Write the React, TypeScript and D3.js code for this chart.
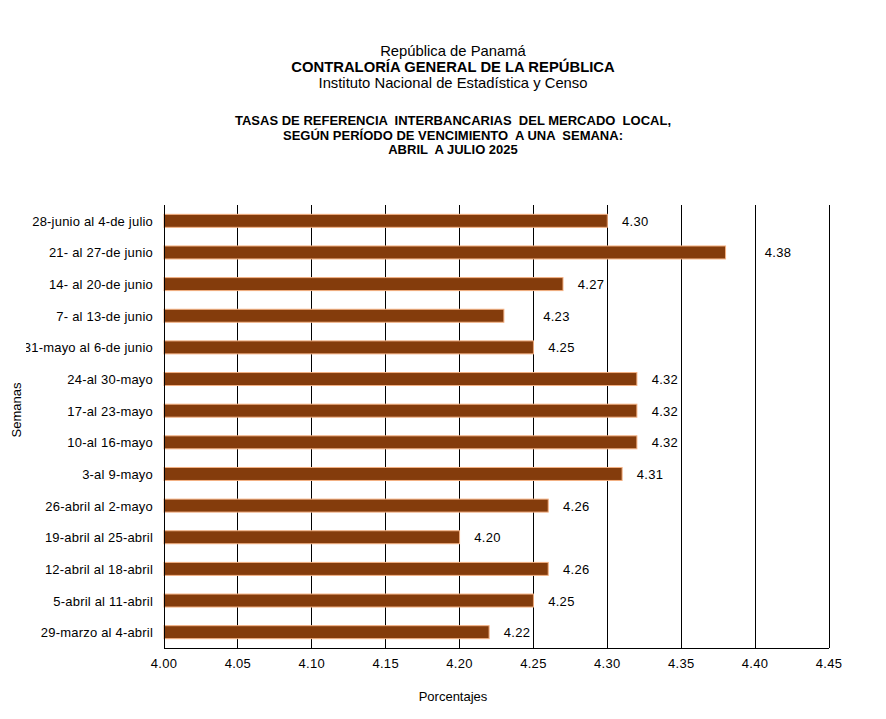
import React, { useEffect, useRef } from "react";
import * as d3 from "d3";

// Weekly periods, top to bottom as shown
const semanas: string[] = [
  "28-junio al 4-de julio",
  "21- al 27-de junio",
  "14- al 20-de junio",
  "7- al 13-de junio",
  "31-mayo al 6-de junio",
  "24-al 30-mayo",
  "17-al 23-mayo",
  "10-al 16-mayo",
  "3-al 9-mayo",
  "26-abril al 2-mayo",
  "19-abril al 25-abril",
  "12-abril al 18-abril",
  "5-abril al 11-abril",
  "29-marzo al 4-abril",
];

const tasas: number[] = [
  4.3, 4.38, 4.27, 4.23, 4.25, 4.32, 4.32, 4.32, 4.31, 4.26, 4.2, 4.26, 4.25, 4.22,
];

const xTicks: number[] = [4.0, 4.05, 4.1, 4.15, 4.2, 4.25, 4.3, 4.35, 4.4, 4.45];

const headerLines: string[] = [
  "República de Panamá",
  "CONTRALORÍA GENERAL DE LA REPÚBLICA",
  "Instituto Nacional de Estadística y Censo",
];

const titleLines: string[] = [
  "TASAS DE REFERENCIA  INTERBANCARIAS  DEL MERCADO  LOCAL,",
  "SEGÚN PERÍODO DE VENCIMIENTO  A UNA  SEMANA:",
  "ABRIL  A JULIO 2025",
];

const App: React.FC = () => {
  const svgRef = useRef<SVGSVGElement>(null);

  useEffect(() => {
    const svg = d3.select(svgRef.current);
    svg.selectAll("*").remove();

    const font = "Arial, 'Liberation Sans', sans-serif";
    const left = 164;
    const right = 829;
    const top = 205;
    const bottom = 648;

    const xScale = d3.scaleLinear().domain([4.0, 4.45]).range([left, right]);
    const yScale = d3
      .scaleBand<string>()
      .domain(semanas)
      .range([top, bottom])
      .paddingInner(0.59)
      .paddingOuter(0.295);

    // header
    svg
      .selectAll(".header")
      .data(headerLines)
      .enter()
      .append("text")
      .attr("x", 453)
      .attr("y", (_, i) => 56 + i * 16)
      .attr("text-anchor", "middle")
      .style("font-family", font)
      .style("font-size", "14.8px")
      .style("font-weight", (_, i) => (i === 1 ? "bold" : "normal"))
      .text((d) => d);

    svg
      .selectAll(".title")
      .data(titleLines)
      .enter()
      .append("text")
      .attr("x", 453)
      .attr("y", (_, i) => 125 + i * 14.5)
      .attr("text-anchor", "middle")
      .style("font-family", font)
      .style("font-size", "13px")
      .style("font-weight", "bold")
      .style("white-space", "pre")
      .text((d) => d);

    // vertical grid lines
    svg
      .append("g")
      .selectAll("line")
      .data(xTicks.slice(1))
      .enter()
      .append("line")
      .attr("x1", (d) => xScale(d))
      .attr("x2", (d) => xScale(d))
      .attr("y1", top)
      .attr("y2", bottom)
      .attr("stroke", "#000")
      .attr("stroke-width", 1)
      .attr("shape-rendering", "crispEdges");

    // bars
    svg
      .append("g")
      .selectAll("rect")
      .data(semanas)
      .enter()
      .append("rect")
      .attr("x", xScale(4.0))
      .attr("y", (d) => yScale(d) || 0)
      .attr("width", (_, i) => xScale(tasas[i]) - xScale(4.0))
      .attr("height", yScale.bandwidth())
      .attr("fill", "#843C0C")
      .attr("stroke", "#F4B183")
      .attr("stroke-width", 1);

    // value labels, nudged off any grid line they would sit on
    const labelX = (v: number) => {
      let cx = xScale(v) + 28;
      for (const t of xTicks) {
        const gx = xScale(t);
        if (Math.abs(cx - gx) < 13) {
          cx = gx + 23;
          break;
        }
      }
      return cx;
    };

    svg
      .append("g")
      .selectAll("text")
      .data(semanas)
      .enter()
      .append("text")
      .attr("x", (_, i) => labelX(tasas[i]))
      .attr("y", (d) => (yScale(d) || 0) + yScale.bandwidth() / 2 + 5)
      .attr("text-anchor", "middle")
      .style("font-family", font)
      .style("font-size", "13px")
      .style("letter-spacing", "0.3px")
      .text((_, i) => tasas[i].toFixed(2));

    // axes lines
    svg
      .append("line")
      .attr("x1", left)
      .attr("x2", left)
      .attr("y1", top)
      .attr("y2", bottom)
      .attr("stroke", "#000")
      .attr("shape-rendering", "crispEdges");
    svg
      .append("line")
      .attr("x1", left)
      .attr("x2", right)
      .attr("y1", bottom)
      .attr("y2", bottom)
      .attr("stroke", "#000")
      .attr("shape-rendering", "crispEdges");

    // x tick labels
    svg
      .append("g")
      .selectAll("text")
      .data(xTicks)
      .enter()
      .append("text")
      .attr("x", (d) => xScale(d))
      .attr("y", bottom + 20)
      .attr("text-anchor", "middle")
      .style("font-family", font)
      .style("font-size", "13px")
      .style("letter-spacing", "0.3px")
      .text((d) => d.toFixed(2));

    // y category labels (clipped at left like the original)
    svg
      .append("clipPath")
      .attr("id", "ylab-clip")
      .append("rect")
      .attr("x", 26)
      .attr("y", 0)
      .attr("width", 200)
      .attr("height", 719);

    svg
      .append("g")
      .attr("clip-path", "url(#ylab-clip)")
      .selectAll("text")
      .data(semanas)
      .enter()
      .append("text")
      .attr("x", 153)
      .attr("y", (d) => (yScale(d) || 0) + yScale.bandwidth() / 2 + 5)
      .attr("text-anchor", "end")
      .style("font-family", font)
      .style("font-size", "13px")
      .style("letter-spacing", "0.2px")
      .text((d) => d);

    // axis titles
    svg
      .append("text")
      .attr("transform", "translate(21,410) rotate(-90)")
      .attr("text-anchor", "middle")
      .style("font-family", font)
      .style("font-size", "13px")
      .text("Semanas");

    svg
      .append("text")
      .attr("x", 453)
      .attr("y", 701)
      .attr("text-anchor", "middle")
      .style("font-family", font)
      .style("font-size", "13px")
      .text("Porcentajes");

    return () => {
      svg.selectAll("*").remove();
    };
  }, []);

  return (
    <svg
      ref={svgRef}
      width="886"
      height="719"
      style={{ position: "absolute", left: 0, top: 0, background: "#fff" }}
    />
  );
};

export default App;
